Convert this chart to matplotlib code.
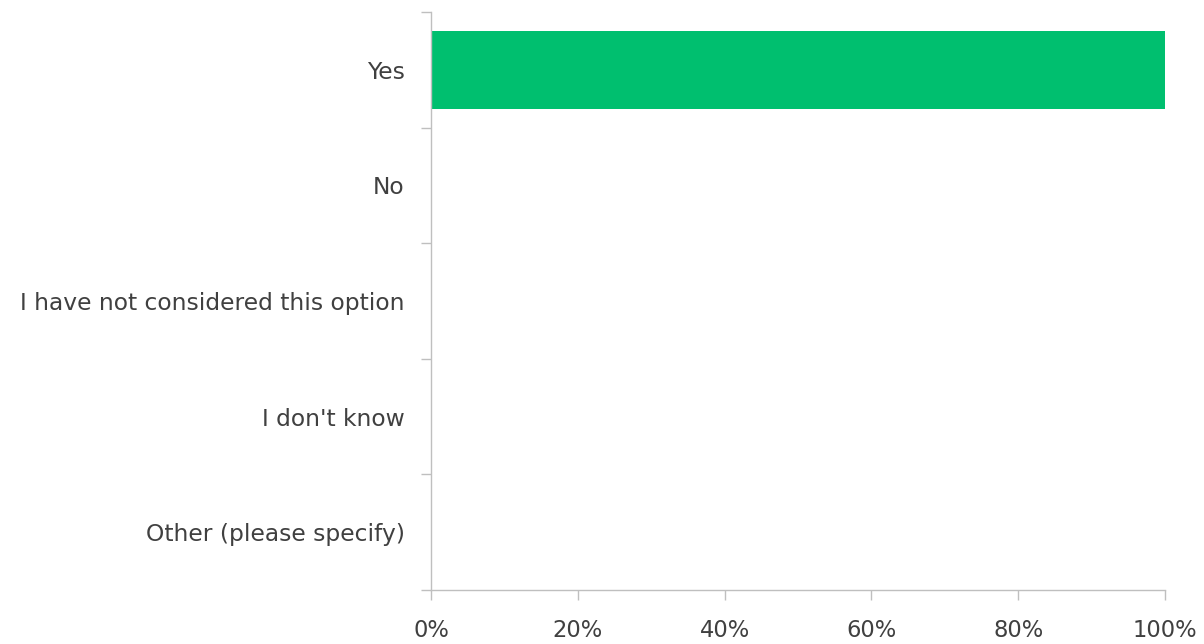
import matplotlib
matplotlib.use("Agg")
import matplotlib.pyplot as plt
from matplotlib.ticker import FixedLocator, PercentFormatter

categories = ["Yes", "No", "I have not considered this option", "I don't know", "Other (please specify)"]
values = [100, 0, 0, 0, 0]
xticks = [0, 20, 40, 60, 80, 100]

plt.rcParams['font.family'] = ['DejaVu Sans']

fig = plt.figure(figsize=(12.04, 6.44), dpi=100)
ax = fig.add_axes([431/1204, 1-590/644, (1165-431)/1204, (590-12)/644])

ypos = list(range(len(categories)))
ax.barh(ypos, values, height=0.67, color="#00BF6F")
ax.set_ylim(len(categories)-0.5, -0.5)
ax.set_xlim(0, 100)

ax.set_yticks(ypos)
ax.set_yticklabels(categories)
ax.yaxis.set_minor_locator(FixedLocator([i-0.5 for i in range(len(categories)+1)]))
ax.tick_params(axis='y', which='major', length=0, pad=19, labelsize=16.8, labelcolor="#404040")
ax.tick_params(axis='y', which='minor', length=7, color="#BFBFBF", width=1)

ax.set_xticks(xticks)
ax.xaxis.set_major_formatter(PercentFormatter(decimals=0))
ax.tick_params(axis='x', which='major', length=7, color="#BFBFBF", width=1, pad=14, labelsize=16.3, labelcolor="#404040")

for s in ['top', 'right']:
    ax.spines[s].set_visible(False)
for s in ['left', 'bottom']:
    ax.spines[s].set_color("#BFBFBF")
    ax.spines[s].set_linewidth(1)

fig.savefig("out.png", dpi=100)
